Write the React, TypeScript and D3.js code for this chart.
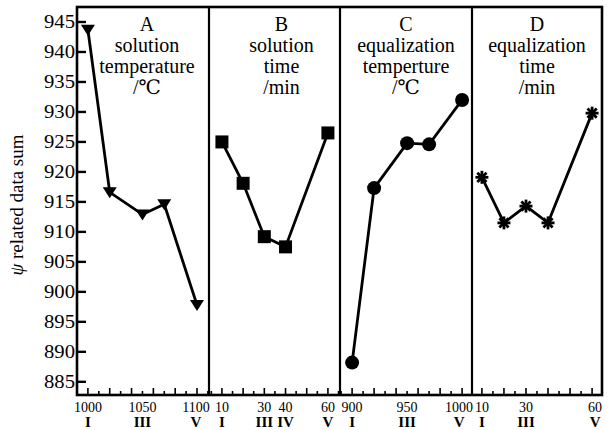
import * as d3 from "d3";

// y axis
const yTicks = d3.range(885, 946, 5);

// factor levels and the psi sums
const levelsA = [1000, 1020, 1050, 1070, 1100];
const valuesA = [943.7, 916.6, 912.9, 914.6, 897.8];
const levelsB = [10, 20, 30, 40, 60];
const valuesB = [925.0, 918.1, 909.2, 907.5, 926.5];
const levelsC = [900, 920, 950, 970, 1000];
const valuesC = [888.2, 917.3, 924.8, 924.6, 932.0];
const levelsD = [10, 20, 30, 40, 60];
const valuesD = [919.1, 911.5, 914.3, 911.5, 929.8];

// tick labels under each panel
const labelsA = [1000, 1050, 1100];
const romanA = ["I", "III", "V"];
const labelsB = [10, 30, 40, 60];
const romanB = ["I", "III", "IV", "V"];
const labelsC = [900, 950, 1000];
const romanC = ["I", "III", "V"];
const labelsD = [10, 30, 60];
const romanD = ["I", "III", "V"];

const titlesA = ["A", "solution", "temperature", "/℃"];
const titlesB = ["B", "solution", "time", "/min"];
const titlesC = ["C", "equalization", "temperture", "/℃"];
const titlesD = ["D", "equalization", "time", "/min"];

const W = 615;
const H = 430;
const left = 77;
const right = 602;
const top = 7;
const bottom = 395;
const edges = [left, 209, 340, 472, right];
const serif = "'Liberation Serif', 'DejaVu Serif', serif";

const y = d3.scaleLinear().domain([882.8, 947.5]).range([bottom, top]);

type Panel = {
	levels: number[];
	values: number[];
	labels: number[];
	roman: string[];
	titles: string[];
	domain: [number, number];
	tickStep: number;
	tallEvery: number;
	marker: "tri" | "square" | "circle" | "star";
	titleShift: number;
	lastLabelShift: number;
};

const panels: Panel[] = [
	{ levels: levelsA, values: valuesA, labels: labelsA, roman: romanA, titles: titlesA, domain: [990, 1111], tickStep: 10, tallEvery: 20, marker: "tri", titleShift: 4, lastLabelShift: -1 },
	{ levels: levelsB, values: valuesB, labels: labelsB, roman: romanB, titles: titlesB, domain: [3.9, 65.7], tickStep: 5, tallEvery: 10, marker: "square", titleShift: 7, lastLabelShift: 0 },
	{ levels: levelsC, values: valuesC, labels: labelsC, roman: romanC, titles: titlesC, domain: [889, 1009], tickStep: 10, tallEvery: 20, marker: "circle", titleShift: 0, lastLabelShift: -3 },
	{ levels: levelsD, values: valuesD, labels: labelsD, roman: romanD, titles: titlesD, domain: [5.5, 64.5], tickStep: 5, tallEvery: 10, marker: "star", titleShift: 0, lastLabelShift: 3 },
];

function Marker({ kind, cx, cy }: { kind: Panel["marker"]; cx: number; cy: number }) {
	if (kind === "tri") {
		const p = d3.path();
		p.moveTo(cx - 7, cy - 5);
		p.lineTo(cx + 7, cy - 5);
		p.lineTo(cx, cy + 6);
		p.closePath();
		return <path d={p.toString()} fill="#000" />;
	}
	if (kind === "square") return <rect x={cx - 6.5} y={cy - 6.5} width={13} height={13} fill="#000" />;
	if (kind === "circle") return <circle cx={cx} cy={cy} r={7} fill="#000" />;
	// asterisk-like burst
	const r = 6.5;
	return (
		<g stroke="#000" strokeWidth={2.8}>
			{[0, 45, 90, 135].map((a) => {
				const t = (a * Math.PI) / 180;
				return (
					<line key={a} x1={cx - r * Math.cos(t)} y1={cy - r * Math.sin(t)} x2={cx + r * Math.cos(t)} y2={cy + r * Math.sin(t)} />
				);
			})}
			<rect x={cx - 3} y={cy - 3} width={6} height={6} fill="#000" stroke="none" />
		</g>
	);
}

function PanelView({ p, i }: { p: Panel; i: number }) {
	const x0 = edges[i];
	const x1 = edges[i + 1];
	const x = d3.scaleLinear().domain(p.domain).range([x0, x1]);
	const line = d3
		.line<number>()
		.x((_, k) => x(p.levels[k]))
		.y((v) => y(v));
	const ticks = d3.range(Math.ceil(p.domain[0] / p.tickStep) * p.tickStep, p.domain[1], p.tickStep);
	const cx = (x0 + x1) / 2 + p.titleShift;
	return (
		<g>
			{ticks.map((t) => (
				<line key={t} x1={x(t)} x2={x(t)} y1={bottom} y2={bottom - (t % p.tallEvery === 0 ? 7 : 4)} stroke="#000" strokeWidth={1.6} />
			))}
			{p.titles.map((s, k) => (
				<text key={k} x={cx} y={31 + k * 21} textAnchor="middle" fontFamily={serif} fontSize={20}>
					{s}
				</text>
			))}
			<path d={line(p.values) ?? ""} fill="none" stroke="#000" strokeWidth={2.8} />
			{p.values.map((v, k) => (
				<Marker key={k} kind={p.marker} cx={x(p.levels[k])} cy={y(v)} />
			))}
			{p.labels.map((l, k) => {
				const lx = x(l) + (k === p.labels.length - 1 ? p.lastLabelShift : 0);
				return (
					<g key={l}>
						<text x={lx} y={412} textAnchor="middle" fontFamily={serif} fontSize={14}>
							{l}
						</text>
						<text x={lx} y={427} textAnchor="middle" fontFamily={serif} fontSize={15} fontWeight="bold">
							{p.roman[k]}
						</text>
					</g>
				);
			})}
		</g>
	);
}

export default function App() {
	return (
		<svg width={W} height={H} style={{ position: "absolute", left: 0, top: 0, background: "#fff" }}>
			<rect x={0} y={0} width={W} height={H} fill="#fff" />
			{panels.map((p, i) => (
				<PanelView key={i} p={p} i={i} />
			))}
			{yTicks.map((t) => (
				<g key={t}>
					<line x1={left} x2={left + 9} y1={y(t)} y2={y(t)} stroke="#000" strokeWidth={2.4} />
					<text x={75} y={y(t)} dy="0.35em" textAnchor="end" fontFamily={serif} fontSize={18} textLength={31} lengthAdjust="spacingAndGlyphs">
						{t}
					</text>
				</g>
			))}
			{edges.slice(1, 4).map((e) => (
				<line key={e} x1={e} x2={e} y1={top} y2={bottom} stroke="#000" strokeWidth={2.2} />
			))}
			<rect x={left} y={top} width={right - left} height={bottom - top} fill="none" stroke="#000" strokeWidth={2.6} />
			<text transform={`translate(23,${(top + bottom) / 2 + 4}) rotate(-90)`} textAnchor="middle" fontFamily={serif} fontSize={19}>
				<tspan fontStyle="italic">ψ</tspan> related data sum
			</text>
		</svg>
	);
}
